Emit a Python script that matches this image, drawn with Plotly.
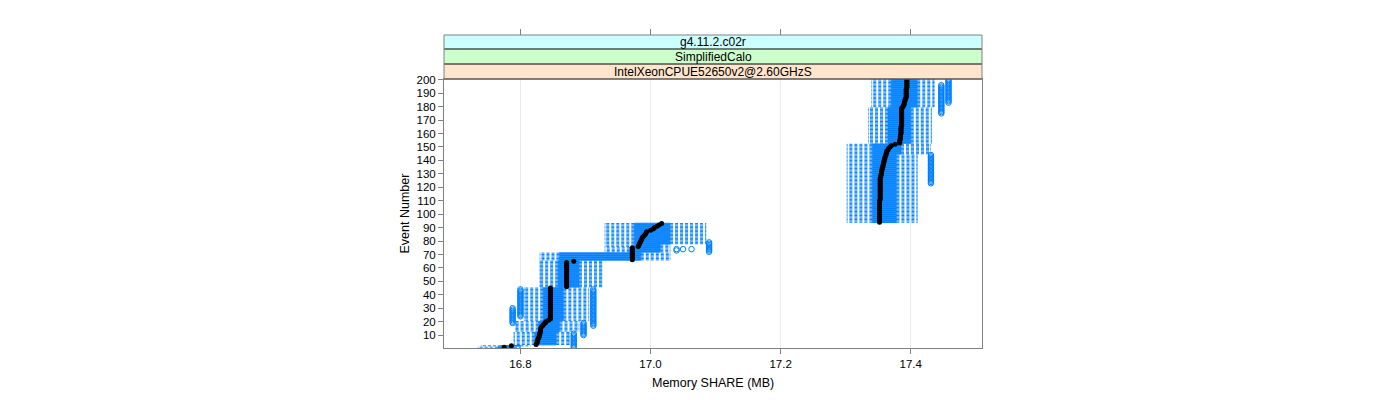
import plotly.graph_objects as go

# ---------------- data ----------------
events = list(range(1, 201))

lo = [
    16.735, 16.740, 16.790, 16.790, 16.790, 16.790, 16.790, 16.790, 16.790, 16.790,
    16.790, 16.790, 16.793, 16.793, 16.793, 16.793, 16.793, 16.793, 16.793, 16.793,
    16.806, 16.806, 16.806, 16.806, 16.806, 16.806, 16.806, 16.806, 16.806, 16.806,
    16.806, 16.806, 16.806, 16.806, 16.806, 16.806, 16.806, 16.806, 16.806, 16.806,
    16.806, 16.806, 16.806, 16.806, 16.806, 16.830, 16.830, 16.830, 16.830, 16.830,
    16.830, 16.830, 16.830, 16.830, 16.830, 16.830, 16.830, 16.830, 16.830, 16.830,
    16.830, 16.830, 16.830, 16.830, 16.830, 16.830, 16.830, 16.830, 16.830, 16.830,
    16.830, 16.930, 16.930, 16.930, 16.930, 16.930, 16.930, 16.930, 16.930, 16.930,
    16.930, 16.930, 16.930, 16.930, 16.930, 16.930, 16.930, 16.930, 16.930, 16.930,
    16.930, 16.930, 16.930, 17.302, 17.302, 17.302, 17.302, 17.302, 17.302, 17.302,
    17.302, 17.302, 17.302, 17.302, 17.302, 17.302, 17.302, 17.302, 17.302, 17.302,
    17.302, 17.302, 17.302, 17.302, 17.302, 17.302, 17.302, 17.302, 17.302, 17.302,
    17.302, 17.302, 17.302, 17.302, 17.302, 17.302, 17.302, 17.302, 17.302, 17.302,
    17.302, 17.302, 17.302, 17.302, 17.302, 17.302, 17.302, 17.302, 17.302, 17.302,
    17.302, 17.302, 17.302, 17.302, 17.302, 17.302, 17.302, 17.302, 17.302, 17.302,
    17.302, 17.302, 17.335, 17.335, 17.335, 17.335, 17.335, 17.335, 17.335, 17.335,
    17.335, 17.335, 17.335, 17.335, 17.335, 17.335, 17.335, 17.335, 17.335, 17.335,
    17.335, 17.335, 17.335, 17.335, 17.335, 17.335, 17.335, 17.335, 17.335, 17.340,
    17.340, 17.340, 17.340, 17.340, 17.340, 17.340, 17.340, 17.340, 17.340, 17.340,
    17.340, 17.340, 17.340, 17.340, 17.340, 17.340, 17.340, 17.340, 17.340, 17.340,
]

q1 = [
    16.765, 16.770, 16.822, 16.822, 16.822, 16.822, 16.822, 16.822, 16.822, 16.822,
    16.822, 16.822, 16.828, 16.828, 16.828, 16.828, 16.828, 16.828, 16.828, 16.828,
    16.835, 16.835, 16.835, 16.835, 16.835, 16.835, 16.835, 16.835, 16.835, 16.835,
    16.835, 16.835, 16.835, 16.835, 16.835, 16.835, 16.835, 16.835, 16.835, 16.835,
    16.835, 16.835, 16.835, 16.835, 16.835, 16.858, 16.858, 16.858, 16.858, 16.858,
    16.858, 16.858, 16.858, 16.858, 16.858, 16.858, 16.858, 16.858, 16.858, 16.858,
    16.858, 16.858, 16.858, 16.858, 16.858, 16.860, 16.860, 16.860, 16.860, 16.860,
    16.860, 16.968, 16.968, 16.968, 16.968, 16.975, 16.975, 16.975, 16.975, 16.975,
    16.975, 16.975, 16.975, 16.975, 16.975, 16.975, 16.975, 16.975, 16.975, 16.975,
    16.975, 16.975, 16.975, 17.341, 17.341, 17.341, 17.341, 17.341, 17.341, 17.341,
    17.341, 17.341, 17.341, 17.341, 17.341, 17.341, 17.341, 17.341, 17.341, 17.341,
    17.341, 17.341, 17.341, 17.341, 17.341, 17.341, 17.341, 17.341, 17.341, 17.341,
    17.341, 17.341, 17.341, 17.341, 17.341, 17.341, 17.341, 17.341, 17.341, 17.341,
    17.341, 17.341, 17.341, 17.341, 17.341, 17.341, 17.341, 17.341, 17.341, 17.341,
    17.341, 17.341, 17.341, 17.341, 17.341, 17.341, 17.341, 17.341, 17.341, 17.341,
    17.341, 17.341, 17.365, 17.365, 17.365, 17.365, 17.365, 17.365, 17.365, 17.365,
    17.365, 17.365, 17.365, 17.365, 17.365, 17.365, 17.365, 17.365, 17.365, 17.365,
    17.365, 17.365, 17.365, 17.365, 17.365, 17.365, 17.365, 17.365, 17.365, 17.370,
    17.370, 17.370, 17.370, 17.370, 17.370, 17.370, 17.370, 17.370, 17.370, 17.370,
    17.370, 17.370, 17.370, 17.370, 17.370, 17.370, 17.370, 17.370, 17.370, 17.370,
]

med = [
    16.775, 16.786, 16.824, 16.825, 16.826, 16.826, 16.827, 16.828, 16.829, 16.829,
    16.830, 16.830, 16.831, 16.831, 16.831, 16.832, 16.834, 16.836, 16.838, 16.839,
    16.843, 16.846, 16.846, 16.846, 16.846, 16.846, 16.846, 16.846, 16.846, 16.846,
    16.846, 16.846, 16.846, 16.846, 16.846, 16.846, 16.846, 16.846, 16.846, 16.846,
    16.846, 16.846, 16.846, 16.846, 16.846, 16.871, 16.871, 16.871, 16.871, 16.871,
    16.871, 16.871, 16.871, 16.871, 16.871, 16.871, 16.871, 16.871, 16.871, 16.871,
    16.871, 16.871, 16.871, 16.871, 16.882, 16.972, 16.972, 16.972, 16.972, 16.972,
    16.972, 16.972, 16.972, 16.972, 16.972, 16.981, 16.982, 16.983, 16.984, 16.985,
    16.986, 16.987, 16.988, 16.990, 16.992, 16.993, 16.994, 17.000, 17.004, 17.006,
    17.010, 17.013, 17.017, 17.352, 17.352, 17.352, 17.352, 17.352, 17.352, 17.352,
    17.352, 17.352, 17.352, 17.352, 17.352, 17.352, 17.352, 17.352, 17.352, 17.352,
    17.353, 17.353, 17.353, 17.353, 17.353, 17.353, 17.353, 17.353, 17.353, 17.353,
    17.353, 17.353, 17.353, 17.353, 17.353, 17.353, 17.353, 17.354, 17.354, 17.355,
    17.355, 17.355, 17.356, 17.356, 17.357, 17.357, 17.358, 17.358, 17.359, 17.359,
    17.360, 17.360, 17.361, 17.362, 17.362, 17.363, 17.363, 17.365, 17.366, 17.368,
    17.370, 17.376, 17.383, 17.383, 17.383, 17.384, 17.384, 17.384, 17.384, 17.385,
    17.385, 17.385, 17.385, 17.385, 17.385, 17.386, 17.386, 17.386, 17.386, 17.386,
    17.386, 17.386, 17.386, 17.386, 17.386, 17.386, 17.386, 17.386, 17.386, 17.388,
    17.389, 17.390, 17.390, 17.391, 17.391, 17.392, 17.393, 17.393, 17.393, 17.393,
    17.393, 17.393, 17.393, 17.394, 17.394, 17.394, 17.394, 17.394, 17.394, 17.394,
]

q3 = [
    16.790, 16.800, 16.855, 16.855, 16.855, 16.855, 16.855, 16.855, 16.855, 16.855,
    16.855, 16.855, 16.860, 16.860, 16.860, 16.860, 16.860, 16.860, 16.860, 16.860,
    16.866, 16.866, 16.866, 16.866, 16.866, 16.866, 16.866, 16.866, 16.866, 16.866,
    16.866, 16.866, 16.866, 16.866, 16.866, 16.866, 16.866, 16.866, 16.866, 16.866,
    16.866, 16.866, 16.866, 16.866, 16.866, 16.890, 16.890, 16.890, 16.890, 16.890,
    16.890, 16.890, 16.890, 16.890, 16.890, 16.890, 16.890, 16.890, 16.890, 16.890,
    16.890, 16.890, 16.890, 16.890, 16.890, 16.985, 16.985, 16.985, 16.985, 16.985,
    16.985, 17.015, 17.015, 17.015, 17.015, 17.015, 17.015, 17.030, 17.030, 17.030,
    17.030, 17.030, 17.030, 17.030, 17.030, 17.030, 17.030, 17.030, 17.030, 17.030,
    17.030, 17.030, 17.030, 17.378, 17.378, 17.378, 17.378, 17.378, 17.378, 17.378,
    17.378, 17.378, 17.378, 17.378, 17.378, 17.378, 17.378, 17.378, 17.378, 17.378,
    17.378, 17.378, 17.378, 17.378, 17.378, 17.378, 17.378, 17.378, 17.378, 17.378,
    17.378, 17.378, 17.378, 17.378, 17.378, 17.378, 17.378, 17.378, 17.378, 17.378,
    17.378, 17.378, 17.378, 17.378, 17.378, 17.378, 17.378, 17.378, 17.378, 17.378,
    17.378, 17.378, 17.378, 17.378, 17.385, 17.385, 17.385, 17.385, 17.385, 17.385,
    17.385, 17.385, 17.400, 17.400, 17.400, 17.400, 17.400, 17.400, 17.400, 17.400,
    17.400, 17.400, 17.400, 17.400, 17.400, 17.400, 17.400, 17.400, 17.400, 17.400,
    17.400, 17.400, 17.400, 17.400, 17.400, 17.400, 17.400, 17.400, 17.400, 17.410,
    17.410, 17.410, 17.410, 17.410, 17.410, 17.410, 17.410, 17.410, 17.410, 17.410,
    17.410, 17.410, 17.410, 17.410, 17.410, 17.410, 17.410, 17.410, 17.410, 17.410,
]

hi = [
    16.800, 16.815, 16.875, 16.875, 16.875, 16.875, 16.875, 16.875, 16.875, 16.875,
    16.875, 16.875, 16.890, 16.890, 16.890, 16.890, 16.890, 16.890, 16.890, 16.890,
    16.905, 16.905, 16.905, 16.905, 16.905, 16.905, 16.905, 16.905, 16.905, 16.905,
    16.905, 16.905, 16.905, 16.905, 16.905, 16.905, 16.905, 16.905, 16.905, 16.905,
    16.905, 16.905, 16.905, 16.905, 16.905, 16.925, 16.925, 16.925, 16.925, 16.925,
    16.925, 16.925, 16.925, 16.925, 16.925, 16.925, 16.925, 16.925, 16.925, 16.925,
    16.925, 16.925, 16.925, 16.925, 16.925, 17.030, 17.030, 17.030, 17.030, 17.030,
    17.030, 17.030, 17.030, 17.030, 17.030, 17.030, 17.030, 17.085, 17.085, 17.085,
    17.085, 17.085, 17.085, 17.085, 17.085, 17.085, 17.085, 17.085, 17.085, 17.085,
    17.085, 17.085, 17.085, 17.410, 17.410, 17.410, 17.410, 17.410, 17.410, 17.410,
    17.410, 17.410, 17.410, 17.410, 17.410, 17.410, 17.410, 17.410, 17.410, 17.410,
    17.410, 17.410, 17.410, 17.410, 17.410, 17.410, 17.410, 17.410, 17.410, 17.410,
    17.410, 17.410, 17.410, 17.410, 17.410, 17.410, 17.410, 17.410, 17.410, 17.410,
    17.410, 17.410, 17.410, 17.410, 17.410, 17.410, 17.410, 17.410, 17.410, 17.410,
    17.410, 17.410, 17.410, 17.410, 17.430, 17.430, 17.430, 17.430, 17.430, 17.430,
    17.430, 17.430, 17.432, 17.432, 17.432, 17.432, 17.432, 17.432, 17.432, 17.432,
    17.432, 17.432, 17.432, 17.432, 17.432, 17.432, 17.432, 17.432, 17.432, 17.432,
    17.432, 17.432, 17.432, 17.432, 17.432, 17.432, 17.432, 17.432, 17.432, 17.436,
    17.436, 17.436, 17.436, 17.436, 17.436, 17.436, 17.436, 17.436, 17.436, 17.436,
    17.436, 17.436, 17.436, 17.436, 17.436, 17.436, 17.436, 17.436, 17.436, 17.436,
]

# outliers: (value, events having that outlier)
outlier_groups = [
    (16.882, [1, 2, 3, 4, 5, 6, 7, 8, 9, 10, 11]),
    (16.897, [10, 11, 12, 13, 14, 15, 16, 17, 18, 19]),
    (16.788, [19, 20, 21, 22, 23, 24, 25, 26, 27, 28, 29, 30]),
    (16.800, [24, 25, 26, 27, 28, 29, 30, 31, 32, 33, 34, 35, 36, 37, 38, 39, 40, 41, 42, 43, 44]),
    (16.912, [17, 18, 19, 20, 21, 22, 23, 24, 25, 26, 27, 28, 29, 30, 31, 32, 33, 34, 35, 36,
              37, 38, 39, 40, 41, 42, 43, 44]),
    (17.040, [73, 74]),
    (17.050, [74]),
    (17.063, [74]),
    (17.090, [72, 73, 74, 75, 76, 77, 78, 79]),
    (17.431, [123, 124, 125, 126, 127, 128, 129, 130, 131, 132, 133, 134, 135, 136, 137, 138,
              139, 140, 141, 142, 143, 144]),
    (17.447, [175, 176, 177, 178, 179, 180, 181, 182, 183, 184, 185, 186, 187, 188, 189, 190,
              191, 192, 193, 194, 195, 196]),
    (17.458, [183, 184, 185, 186, 187, 188, 189, 190, 191, 192, 193, 194, 195, 196, 197, 198,
              199, 200]),
]

x_ticks = [16.8, 17.0, 17.2, 17.4]
x_tick_labels = ["16.8", "17.0", "17.2", "17.4"]
y_ticks = [10, 20, 30, 40, 50, 60, 70, 80, 90, 100, 110, 120, 130, 140, 150, 160, 170, 180, 190, 200]
y_tick_labels = [str(v) for v in y_ticks]
strip_labels = ["IntelXeonCPUE52650v2@2.60GHzS", "SimplifiedCalo", "g4.11.2.c02r"]
strip_colors = ["#FFE5CC", "#CCFFCC", "#CCFFFF"]

# ---------------- build marks ----------------
BLUE = "#0080ff"
H = 0.25  # half box height (box.ratio = 1)

bx, by = [], []
for e, a, b in zip(events, q1, q3):
    bx += [a, b, b, a, a, None]
    by += [e - H, e - H, e + H, e + H, e - H, None]

wx, wy = [], []
for e, l, a, b, h in zip(events, lo, q1, q3, hi):
    wx += [a, l, None, b, h, None]
    wy += [e, e, None, e, e, None]

cx, cy = [], []
for e, l, h in zip(events, lo, hi):
    cx += [l, l, None, h, h, None]
    cy += [e - H, e + H, None, e - H, e + H, None]

ox, oy = [], []
for v, evs in outlier_groups:
    for e in evs:
        ox.append(v)
        oy.append(e)

fig = go.Figure()
fig.add_trace(go.Scatter(x=wx, y=wy, mode="lines", hoverinfo="skip",
                         line=dict(color=BLUE, width=1, dash="3px,2px", simplify=False)))
fig.add_trace(go.Scatter(x=cx, y=cy, mode="lines", hoverinfo="skip",
                         line=dict(color=BLUE, width=1, simplify=False)))
fig.add_trace(go.Scatter(x=bx, y=by, mode="lines", hoverinfo="skip",
                         line=dict(color=BLUE, width=1, simplify=False)))
fig.add_trace(go.Scatter(x=ox, y=oy, mode="markers", hoverinfo="skip",
                         marker=dict(symbol="circle-open", size=5.5, color=BLUE,
                                     line=dict(width=1, color=BLUE))))
fig.add_trace(go.Scatter(x=med, y=events, mode="markers",
                         marker=dict(symbol="circle", size=5, color="black", line=dict(width=0))))
# carrier for the top tick axis
fig.add_trace(go.Scatter(x=[None], y=[None], xaxis="x2", yaxis="y", hoverinfo="skip"))

# ---------------- layout ----------------
OFF = 8  # page body margin in the browser
W, HT = 1400, 400
ML = 444 - OFF
MR = W - (982 - OFF)
MT = 35 - OFF
MB = HT - (348 - OFF)
paper_h = HT - MT - MB
paper_w = W - ML - MR

def py(pix):
    return (HT - MB - (pix - OFF)) / paper_h

def px(pix):
    return ((pix - OFF) - ML) / paper_w

panel_top = py(79)
strip_edges = [py(79), py(64), py(49), py(35)]

XR = [16.6825, 17.5095]
FONT = "Liberation Sans, Arial, Helvetica, sans-serif"

fig.update_layout(
    width=W, height=HT,
    margin=dict(l=ML, r=MR, t=MT, b=MB, pad=0),
    plot_bgcolor="white", paper_bgcolor="white",
    showlegend=False,
    font=dict(family=FONT, size=12, color="black"),
    xaxis=dict(domain=[0, 1], anchor="y", range=XR, tickvals=x_ticks, ticktext=x_tick_labels,
               ticks="outside", ticklen=5, tickcolor="#808080", tickfont=dict(size=11.5),
               showline=True, linecolor="#808080", linewidth=1, mirror=True,
               showgrid=True, gridcolor="#ebebeb", gridwidth=1, zeroline=False),
    xaxis2=dict(overlaying="x", side="top", anchor="free", position=1, range=XR,
                tickvals=x_ticks, showticklabels=False, ticks="outside", ticklen=6,
                tickcolor="#808080", showline=False, showgrid=False, zeroline=False),
    yaxis=dict(domain=[0, panel_top], anchor="x", range=[0.4, 200.6], tickvals=y_ticks,
               ticktext=y_tick_labels, ticks="outside", ticklen=5, tickcolor="#808080",
               tickfont=dict(size=11.5), showline=True, linecolor="#808080", linewidth=1,
               mirror=True, showgrid=False, zeroline=False),
)

shapes = []
for i, col in enumerate(strip_colors):
    shapes.append(dict(type="rect", xref="paper", yref="paper", x0=0, x1=1,
                       y0=strip_edges[i], y1=strip_edges[i + 1], fillcolor=col,
                       line=dict(width=0)))
for yv in strip_edges[:3]:
    shapes.append(dict(type="line", xref="paper", yref="paper", x0=0, x1=1, y0=yv, y1=yv,
                       line=dict(color="black", width=1)))
shapes.append(dict(type="rect", xref="paper", yref="paper", x0=0, x1=1,
                   y0=strip_edges[0], y1=strip_edges[3], line=dict(color="#808080", width=1)))
fig.update_layout(shapes=shapes)

ann = []
for i, lab in enumerate(strip_labels):
    ann.append(dict(text=lab, xref="paper", yref="paper", x=0.5,
                    y=(strip_edges[i] + strip_edges[i + 1]) / 2, showarrow=False,
                    xanchor="center", yanchor="middle", font=dict(size=12)))
ann.append(dict(text="Memory SHARE (MB)", xref="paper", yref="paper", x=0.5, y=py(383),
                showarrow=False, xanchor="center", yanchor="middle", font=dict(size=12.5)))
ann.append(dict(text="Event Number", xref="paper", yref="paper", x=px(404),
                y=py(213.5), showarrow=False, textangle=-90, xanchor="center", yanchor="middle",
                font=dict(size=12.5)))
fig.update_layout(annotations=ann)

fig.write_html("out.html")
